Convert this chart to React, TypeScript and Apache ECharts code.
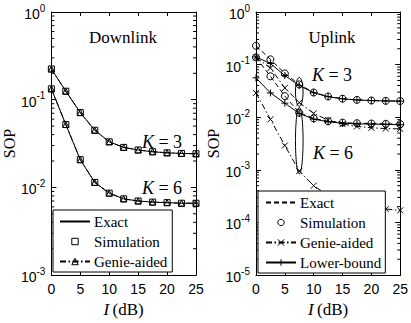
import React, { useEffect, useRef } from 'react';
import * as echarts from 'echarts';

// ---------- data ----------
const I = [0, 2.5, 5, 7.5, 10, 12.5, 15, 17.5, 20, 22.5, 25];
const X_MIN = 0;
const X_MAX = 25;
const X_STEP = 5;

// Downlink
const dlK3Exact = [0.224, 0.125, 0.0713, 0.0449, 0.0331, 0.0286, 0.0267, 0.0255, 0.0248, 0.0244, 0.0242];
const dlK3Sim = [0.224, 0.125, 0.0713, 0.0449, 0.0331, 0.0286, 0.0267, 0.0255, 0.0248, 0.0244, 0.0242];
const dlK3Genie = [0.224, 0.125, 0.0713, 0.0449, 0.0331, 0.0286, 0.0267, 0.0255, 0.0248, 0.0244, 0.0242];
const dlK6Exact = [0.133, 0.0521, 0.0207, 0.0114, 0.0086, 0.0074, 0.007, 0.0068, 0.0067, 0.0066, 0.0066];
const dlK6Sim = [0.133, 0.0521, 0.0207, 0.0114, 0.0086, 0.0074, 0.007, 0.0068, 0.0067, 0.0066, 0.0066];
const dlK6Genie = [0.133, 0.0521, 0.0207, 0.0114, 0.0086, 0.0074, 0.007, 0.0068, 0.0067, 0.0066, 0.0066];

// Uplink
const ulK3Exact = [0.228, 0.126, 0.068, 0.042, 0.0295, 0.0248, 0.0225, 0.0214, 0.0208, 0.0205, 0.0203];
const ulK3Sim = [0.228, 0.126, 0.068, 0.042, 0.0295, 0.0248, 0.0225, 0.0214, 0.0208, 0.0205, 0.0203];
const ulK3Genie = [0.137, 0.086, 0.036, 0.019, 0.0118, 0.0088, 0.0074, 0.0067, 0.0063, 0.0061, 0.006];
const ulK3Lower = [0.14, 0.105, 0.062, 0.04, 0.0292, 0.0246, 0.0224, 0.0213, 0.0207, 0.0204, 0.0202];
const ulK6Exact = [0.137, 0.06, 0.0252, 0.0122, 0.0095, 0.0084, 0.0079, 0.0077, 0.0076, 0.0075, 0.0074];
const ulK6Sim = [0.137, 0.06, 0.0252, 0.0122, 0.0095, 0.0084, 0.0079, 0.0077, 0.0076, 0.0075, 0.0074];
const ulK6Genie = [0.029, 0.0091, 0.0029, 0.00095, 0.0005, 0.00033, 0.00025, 0.00021, 0.00019, 0.00018, 0.00017];
const ulK6Lower = [0.056, 0.029, 0.0185, 0.0118, 0.0092, 0.0082, 0.0077, 0.0075, 0.0074, 0.0073, 0.0072];

// ellipse annotations around I = 7.5 dB (x, top, bottom)
const ellipseK3 = [7.5, 0.057, 0.0161];
const ellipseK6 = [7.5, 0.0154, 0.00084];

const dlYMin = 1e-3;
const ulYMin = 1e-5;
const yMax = 1;

const dlLegend = ['Exact', 'Simulation', 'Genie-aided'];
const ulLegend = ['Exact', 'Simulation', 'Genie-aided', 'Lower-bound'];

// ---------- helpers ----------
const SERIF = '"Liberation Serif", "Times New Roman", serif';
const SANS = '"Liberation Sans", Arial, sans-serif';
const BLACK = '#000';
const DASHDOT = [6, 2.5, 1.5, 2.5];
const DASH = [5, 3];

const CROSS = 'path://M0,0L10,10M0,10L10,0';
const PLUS = 'path://M5,0L5,10M0,5L10,5';

const pairs = (ys: number[]) => I.map((x, i) => [x, ys[i]]);

function minorTickValues(minV: number, maxV: number) {
  const out: number[][] = [];
  for (let e = Math.round(Math.log10(minV)); e < Math.round(Math.log10(maxV)); e++) {
    for (let m = 2; m <= 9; m++) out.push([X_MIN, m * Math.pow(10, e)]);
  }
  return out;
}

const legendItem = (name: string, label: string) =>
  label === 'Exact'
    ? { name, itemStyle: { color: 'transparent', borderColor: 'transparent', borderWidth: 0 } }
    : { name, itemStyle: { color: 'transparent', borderColor: BLACK, borderWidth: 1 } };

export default function App() {
  const ref = useRef<HTMLDivElement>(null);

  useEffect(() => {
    if (!ref.current) return;
    const chart = echarts.init(ref.current, null, { renderer: 'svg' });

    const grids = [
      { left: 51, top: 12, width: 145, height: 265 },
      { left: 256, top: 12, width: 146, height: 265 },
    ];

    const xAxisBase = (gi: number, pos: 'bottom' | 'top') => ({
      type: 'value',
      gridIndex: gi,
      position: pos,
      min: X_MIN,
      max: X_MAX,
      interval: X_STEP,
      axisLine: { show: true, onZero: false, lineStyle: { color: BLACK, width: 1 } },
      axisTick: { show: true, inside: true, length: 4, lineStyle: { color: BLACK } },
      splitLine: { show: false },
      axisLabel:
        pos === 'bottom'
          ? { show: true, color: BLACK, fontFamily: SANS, fontSize: 14, margin: 7 }
          : { show: false },
      name: pos === 'bottom' ? '{i|I} {n|(dB)}' : '',
      nameLocation: 'middle',
      nameGap: 21,
      nameTextStyle: {
        rich: {
          i: { fontFamily: SERIF, fontStyle: 'italic', fontSize: 17, color: BLACK },
          n: { fontFamily: SERIF, fontSize: 17, color: BLACK },
        },
      },
    });

    const yAxisBase = (gi: number, pos: 'left' | 'right', minV: number) => ({
      type: 'log',
      logBase: 10,
      gridIndex: gi,
      position: pos,
      min: minV,
      max: yMax,
      axisLine: { show: true, onZero: false, lineStyle: { color: BLACK, width: 1 } },
      axisTick: { show: true, inside: true, length: 5, lineStyle: { color: BLACK } },
      splitLine: { show: false },
      axisLabel:
        pos === 'left'
          ? {
              show: true,
              margin: 6,
              formatter: (v: number) => '{b|10}{s|' + Math.round(Math.log10(v)) + '}',
              rich: {
                b: { fontFamily: SANS, fontSize: 14, color: BLACK, lineHeight: 18, verticalAlign: 'bottom' },
                s: { fontFamily: SANS, fontSize: 10, color: BLACK, lineHeight: 10, verticalAlign: 'top' },
              },
            }
          : { show: false },
      name: pos === 'left' ? 'SOP' : '',
      nameLocation: 'middle',
      nameGap: 31,
      nameTextStyle: { fontFamily: SERIF, fontSize: 16, color: BLACK },
    });

    const exactSeries = (name: string, data: number[], xi: number, dash: any) => ({
      name,
      type: 'line',
      xAxisIndex: xi,
      yAxisIndex: xi,
      data: pairs(data),
      showSymbol: false,
      symbol: 'circle',
      itemStyle: { color: 'transparent', borderWidth: 0 },
      lineStyle: { color: BLACK, width: 1, type: dash },
      silent: true,
      z: 3,
    });

    const markerSeries = (
      name: string,
      data: number[],
      xi: number,
      symbol: string,
      size: number,
      lineType: any,
      lineShow: boolean
    ) => ({
      name,
      type: 'line',
      xAxisIndex: xi,
      yAxisIndex: xi,
      data: pairs(data),
      showSymbol: true,
      showAllSymbol: true,
      symbol,
      symbolSize: size,
      itemStyle: { color: 'transparent', borderColor: BLACK, borderWidth: 1 },
      lineStyle: lineShow
        ? { color: BLACK, width: 1, type: lineType }
        : { color: BLACK, width: 0, opacity: 0 },
      silent: true,
      z: 4,
    });

    const minorTickSeries = (gi: number, minV: number) => ({
      type: 'custom',
      xAxisIndex: gi,
      yAxisIndex: gi,
      silent: true,
      data: minorTickValues(minV, yMax),
      renderItem: (params: any, api: any) => {
        const v = api.value(1);
        const a = api.coord([X_MIN, v]);
        const b = api.coord([X_MAX, v]);
        return {
          type: 'group',
          children: [
            { type: 'line', shape: { x1: a[0], y1: a[1], x2: a[0] + 3, y2: a[1] }, style: { stroke: BLACK, lineWidth: 1 } },
            { type: 'line', shape: { x1: b[0] - 3, y1: b[1], x2: b[0], y2: b[1] }, style: { stroke: BLACK, lineWidth: 1 } },
          ],
        };
      },
      z: 2,
    });

    const ellipseSeries = {
      type: 'custom',
      xAxisIndex: 1,
      yAxisIndex: 1,
      silent: true,
      data: [ellipseK3, ellipseK6],
      renderItem: (params: any, api: any) => {
        const x = api.value(0);
        const t = api.coord([x, api.value(1)]);
        const b = api.coord([x, api.value(2)]);
        return {
          type: 'ellipse',
          shape: { cx: t[0], cy: (t[1] + b[1]) / 2, rx: 3.8, ry: (b[1] - t[1]) / 2 },
          style: { fill: 'none', stroke: BLACK, lineWidth: 1 },
        };
      },
      z: 5,
    };

    const U = 'U:';
    const legendCommon = {
      orient: 'vertical',
      backgroundColor: '#fff',
      borderColor: BLACK,
      borderWidth: 1,
      borderRadius: 0,
      itemWidth: 30,
      itemHeight: 8,
      itemGap: 5,
      selectedMode: false,
      textStyle: { fontFamily: SERIF, fontSize: 15, color: BLACK, padding: [0, 0, 0, -1] },
      z: 10,
    };

    const option: any = {
      animation: false,
      backgroundColor: '#fff',
      grid: grids,
      xAxis: [xAxisBase(0, 'bottom'), xAxisBase(1, 'bottom'), xAxisBase(0, 'top'), xAxisBase(1, 'top')],
      yAxis: [
        yAxisBase(0, 'left', dlYMin),
        yAxisBase(1, 'left', ulYMin),
        yAxisBase(0, 'right', dlYMin),
        yAxisBase(1, 'right', ulYMin),
      ],
      legend: [
        {
          ...legendCommon,
          left: 53,
          top: 210,
          padding: [4, 5, 3, 6],
          data: dlLegend.map((n) => legendItem(n, n)),
        },
        {
          ...legendCommon,
          left: 258,
          top: 191,
          padding: [4, 4, 3, 7],
          data: ulLegend.map((n) => legendItem(U + n, n)),
          formatter: (n: string) => n.replace(U, ''),
        },
      ],
      series: [
        // Downlink
        exactSeries('Exact', dlK3Exact, 0, 'solid'),
        exactSeries('Exact', dlK6Exact, 0, 'solid'),
        markerSeries('Simulation', dlK3Sim, 0, 'rect', 6, 'solid', false),
        markerSeries('Simulation', dlK6Sim, 0, 'rect', 6, 'solid', false),
        markerSeries('Genie-aided', dlK3Genie, 0, 'triangle', 6, DASHDOT, true),
        markerSeries('Genie-aided', dlK6Genie, 0, 'triangle', 6, DASHDOT, true),
        // Uplink
        exactSeries(U + 'Exact', ulK3Exact, 1, DASH),
        exactSeries(U + 'Exact', ulK6Exact, 1, DASH),
        markerSeries(U + 'Simulation', ulK3Sim, 1, 'circle', 7, 'solid', false),
        markerSeries(U + 'Simulation', ulK6Sim, 1, 'circle', 7, 'solid', false),
        markerSeries(U + 'Genie-aided', ulK3Genie, 1, CROSS, 6, DASHDOT, true),
        markerSeries(U + 'Genie-aided', ulK6Genie, 1, CROSS, 6, DASHDOT, true),
        markerSeries(U + 'Lower-bound', ulK3Lower, 1, PLUS, 7, 'solid', true),
        markerSeries(U + 'Lower-bound', ulK6Lower, 1, PLUS, 7, 'solid', true),
        minorTickSeries(0, dlYMin),
        minorTickSeries(1, ulYMin),
        ellipseSeries,
      ],
      graphic: [
        {
          type: 'text',
          x: 123,
          y: 37,
          style: { text: 'Downlink', fontFamily: SERIF, fontSize: 17, fill: BLACK, align: 'center', verticalAlign: 'middle' },
        },
        {
          type: 'text',
          x: 332,
          y: 37,
          style: { text: 'Uplink', fontFamily: SERIF, fontSize: 17, fill: BLACK, align: 'center', verticalAlign: 'middle' },
        },
        ...[
          { x: 162, y: 142, t: '3' },
          { x: 162, y: 188, t: '6' },
          { x: 332, y: 75, t: '3' },
          { x: 333, y: 153, t: '6' },
        ].map((k) => ({
          type: 'text',
          x: k.x,
          y: k.y,
          z: 20,
          style: {
            text: '{i|K} = ' + k.t,
            fontFamily: SERIF,
            fontSize: 18,
            fill: BLACK,
            align: 'center',
            verticalAlign: 'middle',
            rich: { i: { fontFamily: SERIF, fontSize: 18, fontStyle: 'italic', fill: BLACK } },
          },
        })),
      ],
    };

    chart.setOption(option);
    return () => chart.dispose();
  }, []);

  return (
    <div
      ref={ref}
      style={{ position: 'absolute', left: 0, top: 0, width: 411, height: 323, background: '#fff' }}
    />
  );
}
